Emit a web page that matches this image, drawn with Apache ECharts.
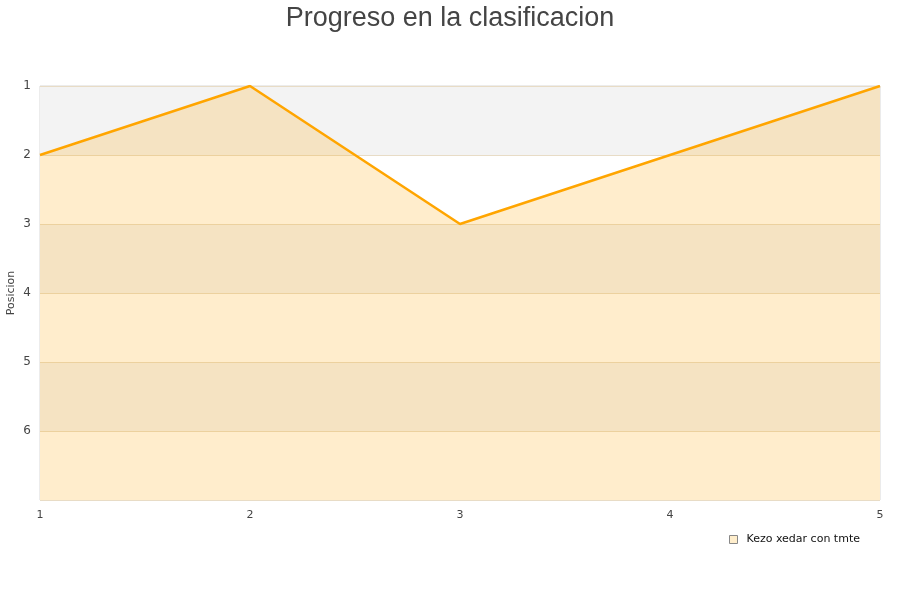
<!DOCTYPE html>
<html><head><meta charset="utf-8">
<script src="https://cdn.jsdelivr.net/npm/echarts@6/dist/echarts.min.js"></script>
<style>html,body{margin:0;padding:0;background:#fff}#c{width:900px;height:600px}</style>
</head><body><div id="c"></div>
<script>
const titleText = 'Progreso en la clasificacion';
const seriesName = 'Kezo xedar con tmte';
const jornadas = [1, 2, 3, 4, 5];
const posiciones = [2, 1, 3, 2, 1];
const yName = 'Posicion';

const chart = echarts.init(document.getElementById('c'), null, {renderer: 'canvas'});
chart.setOption({
  animation: false,
  backgroundColor: '#ffffff',
  title: {
    text: titleText, left: 'center', top: 0,
    textStyle: {fontFamily: 'Liberation Sans', fontSize: 27, fontWeight: 'normal', color: '#444'}
  },
  legend: {
    data: [{name: seriesName, icon: 'rect', itemStyle: {color: '#ffeecc', borderColor: '#888', borderWidth: 1}}],
    left: 724, top: 529, itemWidth: 8, itemHeight: 8, itemGap: 10,
    textStyle: {fontFamily: 'DejaVu Sans', fontSize: 11, color: '#111', padding: [0, 0, 0, 4]}
  },
  grid: {left: 40, right: 20, top: 86, bottom: 100, containLabel: false, outerBoundsMode: 'none',
    show: true, borderColor: '#d8d8d8', borderWidth: 1, backgroundColor: 'transparent'},
  xAxis: {
    type: 'value', min: 1, max: 5, interval: 1,
    axisLine: {show: false}, axisTick: {show: false},
    splitLine: {show: false},
    axisLabel: {fontFamily: 'DejaVu Sans', fontSize: 11, color: '#444', margin: 10}
  },
  yAxis: {
    type: 'value', inverse: true, min: 1, max: 7, interval: 1,
    name: yName, nameLocation: 'middle', nameGap: 23, nameRotate: 90, nameMoveOverlap: false,
    nameTextStyle: {fontFamily: 'DejaVu Sans', fontSize: 11, color: '#444'},
    axisLine: {show: false}, axisTick: {show: false},
    axisLabel: {fontFamily: 'DejaVu Sans', fontSize: 12, color: '#444', margin: 9,
      formatter: v => v === 7 ? '' : String(v)},
    splitLine: {show: true, lineStyle: {color: '#e8dcc6', width: 1}},
    splitArea: {show: true, areaStyle: {color: ['#f3f3f3', '#ffffff']}}
  },
  series: [{
    name: seriesName, type: 'line',
    data: jornadas.map((x, i) => [x, posiciones[i]]),
    showSymbol: false, symbol: 'none',
    lineStyle: {color: '#ffa500', width: 2.5},
    itemStyle: {color: '#ffa500'},
    areaStyle: {color: 'rgba(255,165,0,0.2)', opacity: 1, origin: 'end'}
  }]
});
</script></body></html>
